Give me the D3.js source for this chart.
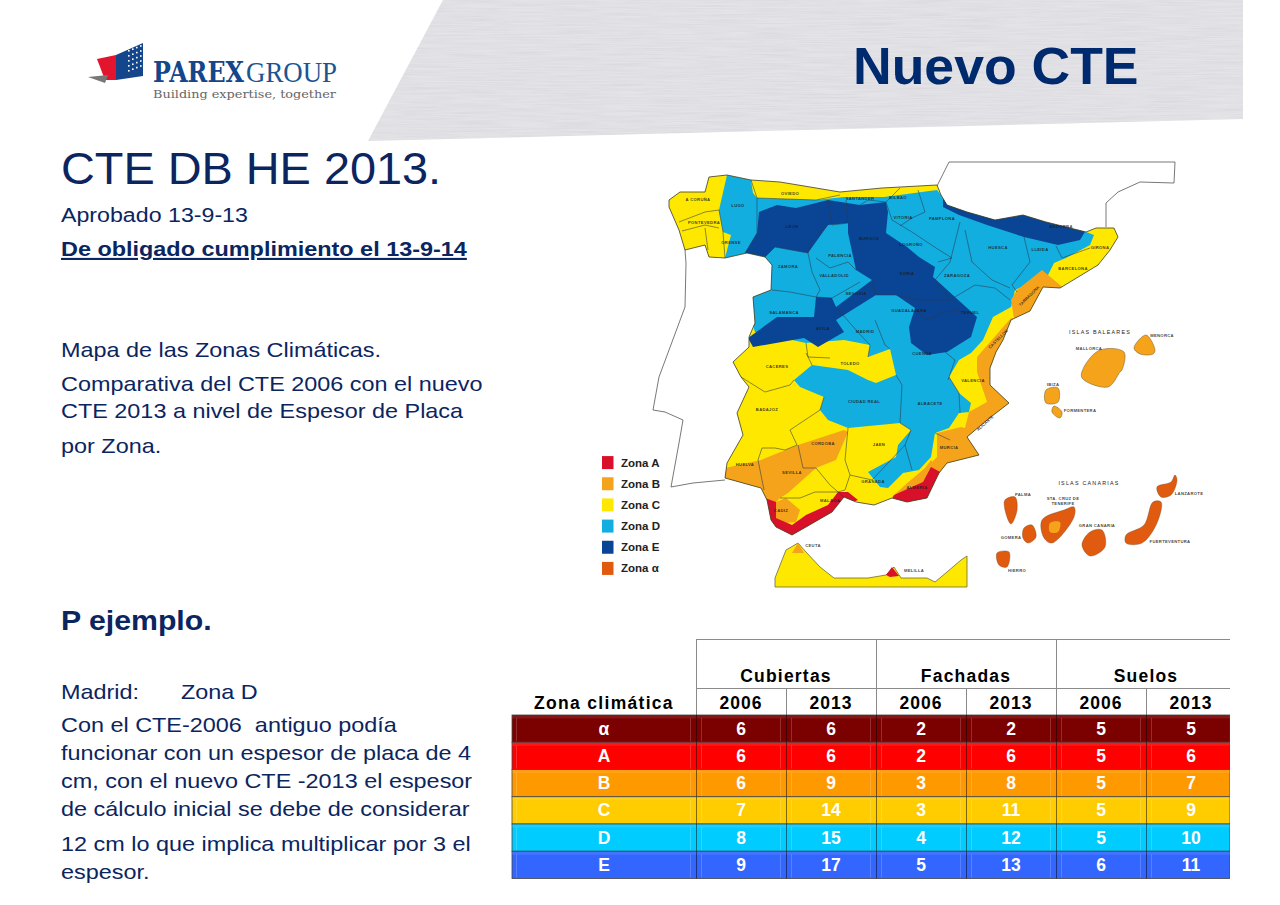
<!DOCTYPE html>
<html>
<head>
<meta charset="utf-8">
<title>Nuevo CTE</title>
<script src="https://d3js.org/d3.v7.min.js"></script>
<style>
  html, body { margin: 0; padding: 0; background: #fff; }
  svg { display: block; font-family: "Liberation Sans", Arial, sans-serif; }
</style>
</head>
<body>
<svg id="slide" width="1280" height="905"></svg>
<script>
// table data
const zones = ["α", "A", "B", "C", "D", "E"];
const zoneColors = ["#7b0000", "#ff0000", "#ff9900", "#ffcc00", "#00ccff", "#3366ff"];
const groups = ["Cubiertas", "Fachadas", "Suelos"];
const years = ["2006", "2013"];
const cubiertas2006 = [6, 6, 6, 7, 8, 9];
const cubiertas2013 = [6, 6, 9, 14, 15, 17];
const fachadas2006 = [2, 2, 3, 3, 4, 5];
const fachadas2013 = [2, 6, 8, 11, 12, 13];
const suelos2006 = [5, 5, 5, 5, 5, 6];
const suelos2013 = [5, 6, 7, 9, 10, 11];
const tableSeries = [cubiertas2006, cubiertas2013, fachadas2006, fachadas2013, suelos2006, suelos2013];

// map legend
const legendNames = ["Zona A", "Zona B", "Zona C", "Zona D", "Zona E", "Zona α"];
const legendColors = ["#d8102a", "#f5a31a", "#ffe800", "#12aee0", "#0a4595", "#e05a10"];

// map outlines
const spain = [[669,200],[680,192],[705,192],[709,177],[727,175],[751,180],[780,182],[840,192],[882,188],[937,185],[941,195],[947,205],[967,212],[995,220],[1023,215],[1046,222],[1086,232],[1096,228],[1114,228],[1118,237],[1110,250],[1098,265],[1060,288],[1043,287],[1030,311],[1015,318],[1011,320],[1003,340],[996,352],[990,368],[990,385],[1009,403],[987,420],[967,437],[979,455],[947,463],[939,473],[927,498],[907,502],[892,498],[874,505],[856,502],[844,497],[832,512],[806,527],[792,535],[776,527],[771,520],[767,500],[761,488],[725,478],[727,463],[743,435],[737,413],[749,387],[741,377],[733,362],[749,347],[749,337],[755,323],[753,297],[771,290],[772,265],[765,257],[747,253],[725,258],[709,257],[705,245],[685,250],[679,230],[669,207]];
const portugal = [[685,250],[686,263],[685,307],[659,377],[653,410],[665,412],[683,420],[679,443],[671,487],[693,483],[725,480]];
const france = [[937,186],[949,162],[1175,162],[1174,183],[1140,182],[1118,192],[1106,203],[1106,227]];
const zoneDNorth = [[727,175],[751,180],[753,193],[757,198],[816,200],[844,197],[884,197],[937,190],[941,195],[947,205],[1086,232],[1094,235],[1090,245],[1066,258],[1054,263],[1048,275],[1015,290],[1011,307],[993,317],[983,340],[971,353],[959,360],[949,377],[959,393],[971,403],[969,412],[959,413],[949,428],[935,433],[931,457],[919,470],[903,473],[888,488],[880,487],[868,472],[896,457],[898,445],[911,430],[900,423],[848,428],[828,420],[820,410],[824,397],[800,387],[794,380],[812,365],[848,370],[868,380],[876,383],[896,375],[890,349],[868,357],[870,345],[844,340],[806,343],[755,332],[745,300],[771,285],[765,257],[747,253],[725,258],[731,235],[723,232],[719,210]];
const zoneENorth = [[759,212],[777,205],[796,208],[828,200],[860,205],[886,202],[888,212],[886,233],[907,247],[919,257],[935,267],[933,277],[955,297],[977,317],[971,337],[947,352],[927,355],[911,343],[909,327],[915,308],[896,295],[876,295],[836,320],[844,332],[818,347],[804,338],[753,347],[748,338],[777,317],[814,317],[816,297],[832,298],[836,307],[872,280],[856,270],[848,233],[848,223],[828,225],[808,253],[775,247],[765,257],[745,253],[757,233]];
const zoneEPyrenees = [[943,195],[949,205],[987,217],[1023,213],[1046,220],[1086,230],[1080,240],[1058,245],[1024,237],[987,225],[959,215],[943,207]];
const zoneBTarragona = [[1042,270],[1066,290],[1045,300],[1030,325],[1015,325],[1011,300],[1017,290]];
const zoneBLevante = [[1011,318],[1020,320],[1005,345],[995,372],[995,387],[1012,403],[985,425],[970,440],[982,456],[947,465],[939,476],[931,463],[937,457],[937,433],[961,427],[965,428],[969,412],[987,402],[977,372],[977,357]];
const zoneBAndalucia = [[725,468],[761,460],[798,445],[844,430],[848,432],[836,460],[816,468],[788,493],[780,498],[775,503],[765,500],[761,488],[725,480]];
const zoneBCadiz = [[776,502],[786,498],[800,510],[796,522],[785,523],[776,518]];
const zoneBAlmeria = [[892,497],[905,485],[925,468],[931,460],[938,470],[923,484],[905,497]];
const zoneASouth = [[765,498],[776,502],[776,518],[792,525],[806,515],[828,505],[838,492],[848,492],[858,500],[848,504],[840,503],[832,514],[804,530],[792,537],[776,528],[769,521]];
const zoneAAlmeria = [[892,499],[894,495],[923,482],[931,467],[942,473],[928,499],[907,503]];
const ceutaMelilla = [[775,587],[775,578],[786,550],[798,543],[806,552],[820,567],[834,578],[868,578],[886,575],[894,567],[901,578],[927,578],[935,582],[947,572],[961,560],[967,556],[967,587]];
const ceuta = [[792,553],[798,543],[804,553]];
const melilla = [[886,575],[892,567],[899,576],[890,577]];
const baleares = [
  [[1134,348],[1146,335],[1155,350],[1153,354],[1140,354]],
  [[1100,350],[1124,352],[1122,370],[1120,372],[1108,387],[1082,378],[1084,367]],
  [[1046,390],[1058,388],[1058,402],[1046,403]],
  [[1054,406],[1062,412],[1060,418],[1052,412]]
];
const canarias = [
  [[1005,500],[1015,497],[1017,510],[1011,524],[1005,510]],
  [[1024,528],[1032,525],[1036,537],[1028,543],[1023,538]],
  [[1042,520],[1064,510],[1074,507],[1074,517],[1052,543],[1044,538]],
  [[1090,532],[1102,530],[1105,547],[1090,556],[1082,545]],
  [[997,553],[1009,552],[1007,567],[999,565]],
  [[1157,487],[1171,482],[1175,475],[1177,480],[1171,495],[1161,497]],
  [[1153,502],[1161,502],[1157,523],[1142,543],[1126,543],[1126,535],[1144,525]]
];
const teide = [[1050,523],[1060,522],[1058,532],[1050,532]];
const provinceLines = [
  [[679,222],[705,212],[719,210]], [[682,231],[705,225],[719,228]], [[705,228],[708,250]],
  [[719,210],[723,232],[725,258]], [[751,180],[757,198],[816,200],[840,195]],
  [[757,198],[757,233],[745,253]], [[765,257],[775,247],[808,253],[812,240],[828,225]],
  [[828,200],[832,225],[848,223],[846,200]], [[808,253],[812,272],[820,290],[816,297]],
  [[816,258],[830,268],[848,262],[856,270]], [[772,290],[790,292],[816,297],[832,298],[860,282]],
  [[860,205],[868,200],[886,202],[900,188]], [[886,202],[892,220],[912,232],[936,248],[952,258],[938,262]],
  [[900,226],[912,218],[925,212],[918,190]], [[960,222],[950,262],[935,280]],
  [[965,230],[972,262],[992,280],[1010,288]], [[1024,237],[1030,262],[1012,285],[1017,292]],
  [[1056,246],[1062,258],[1090,248]], [[935,280],[950,300],[975,285],[995,288],[1010,300]],
  [[872,280],[876,295],[896,295],[918,300],[950,300]], [[836,307],[856,330],[870,345]],
  [[875,320],[885,345],[890,349]], [[915,308],[925,320],[945,312],[960,310]],
  [[945,352],[955,360],[948,380]], [[806,343],[808,357],[830,358]], [[868,357],[870,345]],
  [[806,353],[812,365]], [[741,377],[765,392],[790,385],[794,380]],
  [[824,397],[820,410],[790,430],[797,445],[785,450],[775,448],[762,448],[758,460],[764,490]],
  [[896,375],[902,385],[900,423],[911,430],[905,445],[912,470]],
  [[848,428],[845,460],[850,475],[872,480],[905,445]], [[949,377],[959,393],[960,413]],
  [[935,433],[950,440]], [[798,445],[803,468],[816,468],[830,485],[844,497]],
  [[850,475],[845,490],[838,492]], [[780,498],[800,498],[815,492],[838,492]]
];
const provinceLabels = [
  ["A CORUÑA",698,199],["PONTEVEDRA",704,222],["ORENSE",731,242],["LUGO",738,205],["OVIEDO",790,193],
  ["SANTANDER",860,198],["BILBAO",898,197],["VITORIA",903,217],["PAMPLONA",942,218],["LEON",792,226],
  ["BURGOS",869,238],["LOGROÑO",911,244],["HUESCA",998,247],["LLEIDA",1040,249],["ANDORRA",1061,226],
  ["GIRONA",1100,247],["BARCELONA",1073,268],["PALENCIA",840,255],["ZAMORA",788,266],["VALLADOLID",834,275],
  ["SORIA",907,273],["ZARAGOZA",957,275],["SEGOVIA",856,293],["SALAMANCA",784,312],["AVILA",823,328],
  ["MADRID",865,331],["GUADALAJARA",909,310],["TERUEL",970,312],["CUENCA",922,353],["CACERES",777,366],
  ["TOLEDO",850,363],["VALENCIA",973,380],["CIUDAD REAL",864,401],["ALBACETE",930,403],["BADAJOZ",767,409],
  ["CORDOBA",823,443],["JAEN",879,444],["MURCIA",949,447],["HUELVA",745,464],["SEVILLA",792,472],
  ["GRANADA",873,481],["ALMERIA",917,487],["MALAGA",830,500],["CADIZ",781,510],["CEUTA",813,545],["MELILLA",914,570],
  ["MENORCA",1162,335],["MALLORCA",1089,348],["IBIZA",1053,384],["FORMENTERA",1080,410],["PALMA",1023,494],
  ["STA. CRUZ DE",1063,498],["TENERIFE",1063,503],["GRAN CANARIA",1097,525],["GOMERA",1011,537],["HIERRO",1017,570],
  ["LANZAROTE",1189,493],["FUERTEVENTURA",1170,541]
];
const rotatedLabels = [["TARRAGONA",1029,296,-45],["CASTELLON",998,339,-45],["ALICANTE",985,423,-42]];
const islandTitles = [["ISLAS BALEARES",1100,332],["ISLAS CANARIAS",1089,483]];

// slide text: [text, baseline]
const navy = "#0b2560";
const introLines = [["Mapa de las Zonas Climáticas.",357],["Comparativa del CTE 2006 con el nuevo",391],["CTE 2013 a nivel de Espesor de Placa",418],["por Zona.",453]];
const exampleLines = [["Con el CTE-2006  antiguo podía",732],["funcionar con un espesor de placa de 4",760],["cm, con el nuevo CTE -2013 el espesor",788],["de cálculo inicial se debe de considerar",816],["12 cm lo que implica multiplicar por 3 el",851],["espesor.",879]];

const svg = d3.select("#slide");
const defs = svg.append("defs");

// ---- banner
const grain = defs.append("filter").attr("id", "grain").attr("x", 0).attr("y", 0).attr("width", 1).attr("height", 1);
grain.append("feTurbulence").attr("type", "fractalNoise").attr("baseFrequency", "0.02 0.7")
  .attr("numOctaves", 3).attr("seed", 4).attr("result", "noise");
grain.append("feColorMatrix").attr("in", "noise").attr("type", "matrix")
  .attr("values", "0 0 0 0 0.6  0 0 0 0 0.6  0 0 0 0 0.63  0.7 0 0 0 -0.2").attr("result", "tint");
grain.append("feComposite").attr("in", "tint").attr("in2", "SourceAlpha").attr("operator", "in").attr("result", "cut");
const merge = grain.append("feMerge");
merge.append("feMergeNode").attr("in", "SourceGraphic");
merge.append("feMergeNode").attr("in", "cut");
svg.append("path").attr("d", "M443,0L1243,0L1243,119L368,141Z").attr("fill", "#e4e4e8").attr("filter", "url(#grain)");

svg.append("text").attr("transform", "translate(853,84) scale(1.03,1)").attr("font-size", 52).attr("font-weight", 700)
  .attr("fill", "#002a6e").text("Nuevo CTE");

// ---- logo
const logo = svg.append("g");
logo.append("path").attr("d", "M116,55L143,43L143,76L116,80Z").attr("fill", "#14468c");
logo.append("path").attr("d", "M97,59L116,55L116,80L105,80Z").attr("fill", "#e3142d");
logo.append("path").attr("d", "M88,77L108,75L105,83Z").attr("fill", "#777");
logo.selectAll("rect.dot").data(d3.cross([128, 132, 136, 140], [50, 55, 60, 65, 70])).join("rect").attr("class", "dot")
  .attr("x", d => d[0]).attr("y", d => d[1] - (d[0] - 128) * 0.4).attr("width", 1.6).attr("height", 1.6).attr("fill", "#fff");
logo.append("text").attr("x", 153).attr("y", 82).attr("font-family", "'DejaVu Serif', serif")
  .attr("font-weight", 700).attr("font-size", 27).attr("textLength", 91).attr("lengthAdjust", "spacingAndGlyphs")
  .attr("fill", "#14468c").text("PAREX");
logo.append("text").attr("x", 246).attr("y", 82).attr("font-family", "'Liberation Serif', serif")
  .attr("font-size", 30).attr("textLength", 91).attr("lengthAdjust", "spacingAndGlyphs")
  .attr("fill", "#1d5490").text("GROUP");
logo.append("text").attr("x", 153).attr("y", 98).attr("font-family", "'DejaVu Serif', serif")
  .attr("font-size", 11.5).attr("textLength", 183).attr("lengthAdjust", "spacingAndGlyphs")
  .attr("fill", "#666").text("Building expertise, together");

// ---- left text, the slide stretches it sideways
const left = svg.append("g").attr("fill", navy).attr("font-size", 21);
const put = (x, y, sx, s) => left.append("text").attr("transform", `translate(${x},${y}) scale(${sx},1)`)
  .style("white-space", "pre").text(s);
put(61, 184, 1.065, "CTE DB HE 2013.").attr("font-size", 44);
put(61, 222, 1.105, "Aprobado 13-9-13");
put(61, 256, 1.115, "De obligado cumplimiento el 13-9-14").attr("font-weight", 700).attr("text-decoration", "underline");
introLines.forEach(d => put(61, d[1], 1.115, d[0]));
put(61, 630, 1.08, "P ejemplo.").attr("font-size", 28).attr("font-weight", 700);
put(61, 699, 1.115, "Madrid:");
put(181, 699, 1.115, "Zona D");
exampleLines.forEach(d => put(61, d[1], 1.115, d[0]));

// ---- map
const mapX = d3.scaleLinear().domain([590, 1210]).range([590, 1210]);
const mapY = d3.scaleLinear().domain([150, 595]).range([150, 595]);
const outline = d3.line().x(d => mapX(d[0])).y(d => mapY(d[1])).curve(d3.curveLinearClosed);
const open = d3.line().x(d => mapX(d[0])).y(d => mapY(d[1]));
const blob = d3.line().x(d => mapX(d[0])).y(d => mapY(d[1])).curve(d3.curveCatmullRomClosed.alpha(0.5));

const map = svg.append("g");
map.append("path").attr("d", open(portugal)).attr("fill", "none").attr("stroke", "#555").attr("stroke-width", 0.8);
map.append("path").attr("d", open(france)).attr("fill", "none").attr("stroke", "#555").attr("stroke-width", 0.8);

defs.append("clipPath").attr("id", "spainClip").append("path").attr("d", outline(spain));
map.append("path").attr("d", outline(spain)).attr("fill", legendColors[2]);
const zonesG = map.append("g").attr("clip-path", "url(#spainClip)");
const patches = [
  [zoneBAndalucia, legendColors[1]], [zoneBLevante, legendColors[1]],
  [zoneBCadiz, legendColors[1]], [zoneBAlmeria, legendColors[1]],
  [zoneDNorth, legendColors[3]], [zoneBTarragona, legendColors[1]],
  [zoneENorth, legendColors[4]], [zoneEPyrenees, legendColors[4]],
  [zoneASouth, legendColors[0]], [zoneAAlmeria, legendColors[0]]
];
zonesG.selectAll("path").data(patches).join("path").attr("d", d => outline(d[0])).attr("fill", d => d[1]);
map.selectAll("path.province").data(provinceLines).join("path").attr("class", "province")
  .attr("d", open).attr("fill", "none").attr("stroke", "#2b3a4a").attr("stroke-width", 0.7).attr("opacity", 0.8);
map.append("path").attr("d", outline(spain)).attr("fill", "none").attr("stroke", "#3a3a2a").attr("stroke-width", 0.8);

map.append("path").attr("d", outline(ceutaMelilla)).attr("fill", legendColors[2]).attr("stroke", "#6b6b3a").attr("stroke-width", 0.8);
map.append("path").attr("d", outline(ceuta)).attr("fill", legendColors[1]);
map.append("path").attr("d", outline(melilla)).attr("fill", legendColors[0]);
map.selectAll("path.balear").data(baleares).join("path").attr("class", "balear")
  .attr("d", blob).attr("fill", legendColors[1]).attr("stroke", "#6a5a30").attr("stroke-width", 0.5);
map.selectAll("path.canaria").data(canarias).join("path").attr("class", "canaria")
  .attr("d", blob).attr("fill", legendColors[5]).attr("stroke", "#7a4a20").attr("stroke-width", 0.4);
map.append("path").attr("d", blob(teide)).attr("fill", legendColors[1]);

map.selectAll("text.prov").data(provinceLabels).join("text").attr("class", "prov")
  .attr("x", d => mapX(d[1])).attr("y", d => mapY(d[2]) + 1.5).attr("text-anchor", "middle")
  .attr("font-size", 4.2).attr("font-weight", 700).attr("letter-spacing", 0.3).attr("fill", "#1c1c1c").attr("fill-opacity", 0.85).text(d => d[0]);
map.selectAll("text.rot").data(rotatedLabels).join("text").attr("class", "rot")
  .attr("transform", d => `translate(${mapX(d[1])},${mapY(d[2])}) rotate(${d[3]})`).attr("text-anchor", "middle")
  .attr("dy", 1.5).attr("font-size", 4.2).attr("font-weight", 700).attr("fill", "#1c1c1c").attr("fill-opacity", 0.85).text(d => d[0]);
map.selectAll("text.isl").data(islandTitles).join("text").attr("class", "isl")
  .attr("x", d => mapX(d[1])).attr("y", d => mapY(d[2]) + 2).attr("text-anchor", "middle")
  .attr("font-size", 5.4).attr("letter-spacing", 1.2).attr("fill", "#222").text(d => d[0]);

// legend
const legendY = d3.scaleBand().domain(legendNames).range([452, 579]);
const legendRow = map.selectAll("g.leg").data(legendNames).join("g").attr("class", "leg")
  .attr("transform", d => `translate(602,${legendY(d) + legendY.bandwidth() / 2})`);
legendRow.append("rect").attr("y", -6.5).attr("width", 11.5).attr("height", 13).attr("fill", (d, i) => legendColors[i]);
legendRow.append("text").attr("x", 19).attr("y", 4).attr("font-size", 11.5).attr("font-weight", 700)
  .attr("fill", "#222").text(d => d);

// ---- table
const colKeys = d3.cross(groups, years).map(d => d.join(" "));
const x = d3.scaleBand().domain(colKeys).range([696, 1236]);
const y = d3.scaleBand().domain(zones).range([715, 878.5]);
const groupX = d3.scaleBand().domain(groups).range([696, 1236]);
const tableRight = 1230;

defs.append("clipPath").attr("id", "tableClip").append("rect")
  .attr("x", 510).attr("y", 630).attr("width", tableRight - 510).attr("height", 260);
const table = svg.append("g").attr("clip-path", "url(#tableClip)").attr("font-weight", 700)
  .attr("font-size", 17.5).attr("text-anchor", "middle");

const lineColor = "#8a8a8a";
table.append("line").attr("x1", 696).attr("x2", tableRight).attr("y1", 639.5).attr("y2", 639.5).attr("stroke", lineColor);
table.append("line").attr("x1", 696).attr("x2", tableRight).attr("y1", 688.5).attr("y2", 688.5).attr("stroke", lineColor);
table.selectAll("line.gv").data(groups).join("line").attr("class", "gv")
  .attr("x1", d => groupX(d) + 0.5).attr("x2", d => groupX(d) + 0.5).attr("y1", 639).attr("y2", 715).attr("stroke", lineColor);
table.selectAll("line.yv").data(colKeys).join("line").attr("class", "yv")
  .attr("x1", d => x(d) + 0.5).attr("x2", d => x(d) + 0.5).attr("y1", 688).attr("y2", 715).attr("stroke", lineColor);

table.selectAll("text.group").data(groups).join("text").attr("class", "group")
  .attr("x", d => groupX(d) + groupX.bandwidth() / 2).attr("y", 682).attr("letter-spacing", 1.2).text(d => d);
table.selectAll("text.year").data(colKeys).join("text").attr("class", "year")
  .attr("x", d => x(d) + x.bandwidth() / 2).attr("y", 709).attr("letter-spacing", 1).text(d => d.split(" ")[1]);
table.append("text").attr("x", 604).attr("y", 709).attr("letter-spacing", 1.3).text("Zona climática");

const row = table.selectAll("g.row").data(zones).join("g").attr("class", "row")
  .attr("transform", d => `translate(0,${y(d)})`);
row.append("rect").attr("x", 512).attr("width", tableRight - 512).attr("height", y.bandwidth())
  .attr("fill", (d, i) => zoneColors[i]).attr("stroke", "#444").attr("stroke-width", 0.8);
row.append("rect").attr("x", 512).attr("y", 0.5).attr("width", tableRight - 512).attr("height", 3)
  .attr("fill", "#fff").attr("fill-opacity", 0.09);
// faint inner edge of each cell, dark rule between cells
row.selectAll("line.cv").data(colKeys).join("line").attr("class", "cv")
  .attr("x1", d => x(d) + 0.5).attr("x2", d => x(d) + 0.5).attr("y1", 0).attr("y2", y.bandwidth())
  .attr("stroke", "#000").attr("stroke-opacity", 0.5);
row.selectAll("line.in").data(colKeys.flatMap(k => [x(k) - 5.5, x(k) + 5.5]).concat([516.5])).join("line").attr("class", "in")
  .attr("x1", d => d).attr("x2", d => d).attr("y1", 3).attr("y2", y.bandwidth() - 1)
  .attr("stroke", "#fff").attr("stroke-opacity", 0.18);
row.append("text").attr("x", 604).attr("y", y.bandwidth() / 2 + 6).attr("fill", "#fff").text(d => d);
row.selectAll("text.val").data((d, i) => tableSeries.map((s, j) => [colKeys[j], s[i]])).join("text").attr("class", "val")
  .attr("x", d => x(d[0]) + x.bandwidth() / 2).attr("y", y.bandwidth() / 2 + 6).attr("fill", "#fff").text(d => d[1]);
</script>
</body>
</html>
